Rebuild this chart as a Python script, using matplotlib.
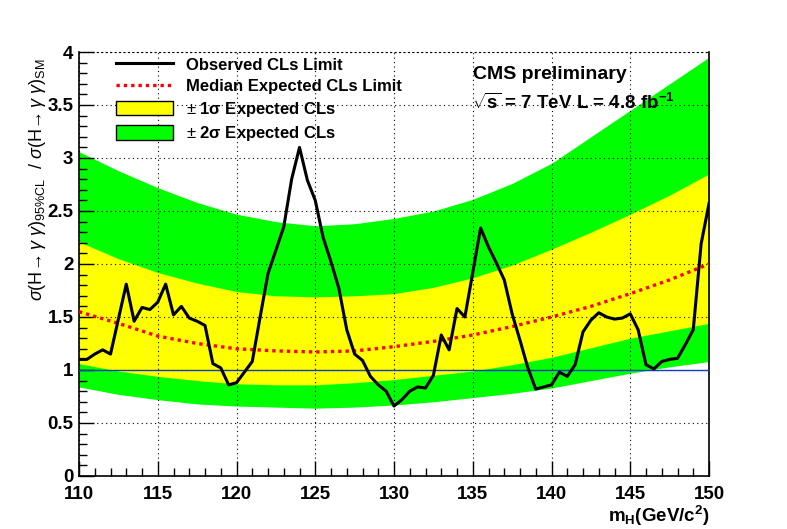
import numpy as np
import matplotlib
matplotlib.use('Agg')
import matplotlib.pyplot as plt
from matplotlib.lines import Line2D
from matplotlib.patches import Patch
from matplotlib.ticker import MultipleLocator, FormatStrFormatter

plt.rcParams['font.family'] = ['Liberation Sans', 'DejaVu Sans']
plt.rcParams['mathtext.fontset'] = 'custom'
plt.rcParams['mathtext.rm'] = 'Liberation Sans'
plt.rcParams['mathtext.it'] = 'Liberation Sans:italic'
plt.rcParams['mathtext.bf'] = 'Liberation Sans:bold'

# observed limit, every 0.5 GeV
obs_mass = np.arange(110, 150.01, 0.5)
obs_limit = [1.10, 1.10, 1.15, 1.19, 1.15, 1.48, 1.81, 1.46, 1.59, 1.57,
             1.64, 1.81, 1.52, 1.60, 1.49, 1.46, 1.42, 1.06, 1.02, 0.86,
             0.88, 0.98, 1.08, 1.50, 1.91, 2.13, 2.35, 2.80, 3.10, 2.79,
             2.60, 2.25, 2.02, 1.77, 1.38, 1.15, 1.09, 0.94, 0.86, 0.80,
             0.66, 0.72, 0.80, 0.84, 0.83, 0.95, 1.33, 1.19, 1.58, 1.50,
             1.92, 2.34, 2.16, 2.01, 1.85, 1.53, 1.28, 1.02, 0.82, 0.84,
             0.86, 0.98, 0.94, 1.05, 1.36, 1.47, 1.54, 1.50, 1.48, 1.49,
             1.53, 1.38, 1.05, 1.01, 1.08, 1.10, 1.11, 1.24, 1.38, 2.19,
             2.57]

# expected limit and bands, every 2.5 GeV
exp_mass = np.arange(110, 150.01, 2.5)
exp_median = [1.55, 1.44, 1.32, 1.25, 1.20, 1.18, 1.17, 1.18, 1.22,
              1.27, 1.33, 1.41, 1.50, 1.60, 1.72, 1.85, 2.00]
exp_p2 = [3.06, 2.88, 2.72, 2.58, 2.47, 2.40, 2.36, 2.38, 2.43,
          2.50, 2.61, 2.76, 2.95, 3.20, 3.45, 3.70, 3.95]
exp_p1 = [2.21, 2.05, 1.92, 1.82, 1.74, 1.70, 1.69, 1.70, 1.72,
          1.78, 1.87, 1.99, 2.14, 2.30, 2.47, 2.65, 2.85]
exp_m1 = [1.06, 0.99, 0.94, 0.90, 0.87, 0.86, 0.86, 0.88, 0.91,
          0.95, 0.99, 1.05, 1.12, 1.21, 1.30, 1.37, 1.44]
exp_m2 = [0.84, 0.77, 0.72, 0.68, 0.66, 0.65, 0.64, 0.65, 0.67,
          0.70, 0.74, 0.78, 0.83, 0.90, 0.97, 1.03, 1.08]

fig = plt.figure(figsize=(7.87, 5.29), dpi=100)
ax = fig.add_axes([0.1004, 0.1002, 0.8005, 0.8015])

ax.fill_between(exp_mass, exp_m2, exp_p2, color='#00ff00', lw=0, zorder=1)
ax.fill_between(exp_mass, exp_m1, exp_p1, color='#ffff00', lw=0, zorder=2)
ax.axhline(1.0, color='#1040c0', lw=1.0, zorder=3)
ax.plot(exp_mass, exp_median, color='#ff0000', lw=2.4, ls=(0, (1, 1.2)), zorder=4)
ax.plot(obs_mass, obs_limit, color='black', lw=2.2, zorder=5)

ax.set_xlim(110, 150)
ax.set_ylim(0, 4)
ax.xaxis.set_major_locator(MultipleLocator(5))
ax.xaxis.set_minor_locator(MultipleLocator(1))
ax.yaxis.set_major_locator(MultipleLocator(0.5))
ax.yaxis.set_minor_locator(MultipleLocator(0.1))
ax.yaxis.set_major_formatter(FormatStrFormatter('%g'))
ax.tick_params(which='both', direction='in', top=False, right=False,
               labelsize=13.5, pad=4)
ax.tick_params(axis='x', pad=7)
ax.tick_params(which='major', length=11, width=1)
ax.tick_params(which='minor', length=6, width=1)
for lab in ax.get_xticklabels() + ax.get_yticklabels():
    lab.set_fontweight('bold')
ax.grid(True, which='major', color='black', ls=(0, (1, 3)), lw=0.8, zorder=6)
ax.set_axisbelow(False)
ax.spines['top'].set_linestyle((0, (1, 3)))
ax.spines['top'].set_linewidth(0.8)
for s in ['left', 'bottom', 'right']:
    ax.spines[s].set_linewidth(1.2)

ax.text(1.0, -0.065, r'$\mathbf{m_{H}}$(GeV/c$^{\mathbf{2}}$)', transform=ax.transAxes,
        ha='right', va='top', fontsize=13.5, fontweight='bold')
fig.text(0.048, 0.89,
         r'$\sigma(\mathrm{H}\!\rightarrow\gamma\ \gamma)_{95\%\mathrm{CL}}$  / $\sigma(\mathrm{H}\!\rightarrow\gamma\ \gamma)_{\mathrm{SM}}$',
         rotation=90, ha='center', va='top', fontsize=13)

handles = [Line2D([], [], color='black', lw=2.2),
           Line2D([], [], color='#ff0000', lw=2.4, ls=(0, (1, 1.2))),
           Patch(facecolor='#ffff00', edgecolor='black', lw=1),
           Patch(facecolor='#00ff00', edgecolor='black', lw=1)]
labels = ['Observed CLs Limit', 'Median Expected CLs Limit',
          r'$\pm$ 1$\mathbf{\sigma}$ Expected CLs', r'$\pm$ 2$\mathbf{\sigma}$ Expected CLs']
leg = ax.legend(handles, labels, loc='upper left', bbox_to_anchor=(0.035, 1.025),
                frameon=False, prop={'weight': 'bold', 'size': 12},
                handlelength=3.4, handleheight=1.0, labelspacing=0.33,
                handletextpad=0.8)
leg.set_zorder(10)

ax.text(0.625, 0.946, 'CMS preliminary', transform=ax.transAxes,
        fontsize=14, fontweight='bold', va='center', zorder=10)
ax.text(0.624, 0.88, r'$\sqrt{\mathbf{s}}$ = 7 TeV L = 4.8 fb$^{\mathbf{-1}}$',
        transform=ax.transAxes, fontsize=13.5, fontweight='bold', va='center', zorder=10)

fig.savefig('out.png', dpi=100)
